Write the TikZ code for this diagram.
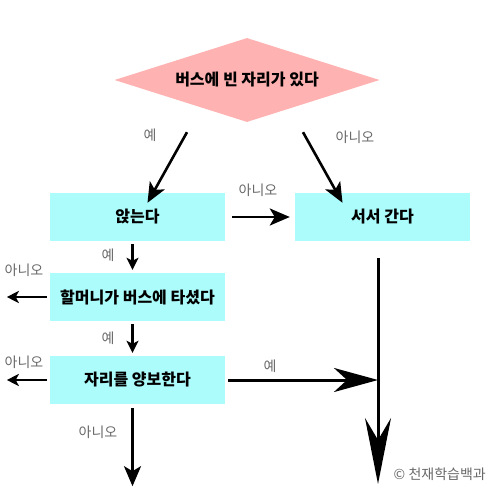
\documentclass[tikz,border=0pt]{standalone}
\usepackage{fontspec}
\setmainfont{Noto Sans CJK KR}
\usetikzlibrary{arrows.meta,positioning,shapes.geometric}
\definecolor{DiaPink}{RGB}{255,178,178}
\definecolor{BoxCyan}{RGB}{172,252,252}
\definecolor{LabelGray}{RGB}{105,105,105}

\begin{document}
\begin{tikzpicture}[x=1pt, y=-1pt,
    cond/.style={diamond, fill=DiaPink, aspect=3.15, inner sep=0pt, minimum width=265pt, minimum height=84pt, font=\fontsize{16}{18}\selectfont\bfseries},
    act/.style={fill=BoxCyan, minimum width=175pt, minimum height=48pt, inner sep=0pt, font=\fontsize{16}{18}\selectfont\bfseries},
    lab/.style={text=LabelGray, font=\fontsize{14}{16}\selectfont, inner sep=0pt},
    arrow/.style={-{Stealth[length=12pt, width=12pt, inset=3pt]}, line width=2.4pt},
    longarrow/.style={-{Stealth[length=20pt, width=17pt, inset=5pt]}, line width=2.6pt},
    bigarrow/.style={-{Stealth[length=44pt, width=24pt, inset=13pt]}, line width=3pt},
    tallarrow/.style={-{Stealth[length=66pt, width=26pt, inset=22pt]}, line width=3pt}
  ]
    \useasboundingbox (0,0) rectangle (492,492);
    \node[cond] (bus) at (247,80) {버스에 빈 자리가 있다};
    \node[act] (sit) at (137.5,217) {앉는다};
    \node[act] (stand) at (382.5,217) {서서 간다};
    \node[act] (granny) at (137.5,297) {할머니가 버스에 타셨다};
    \node[act] (yield) at (137.5,380) {자리를 양보한다};
    \coordinate (fin) at (378,484);

    \node[lab] (l1) at (150,135) {예};
    \node[lab] (l2) at (355,137) {아니오};
    \node[lab] (l3) at (258,190) {아니오};
    \node[lab] (l4) at (108,255) {예};
    \node[lab] (l5) at (24,270) {아니오};
    \node[lab] (l6) at (108,338) {예};
    \node[lab] (l7) at (24,362) {아니오};
    \node[lab] (l8) at (270,366) {예};
    \node[lab] (l9) at (98,432) {아니오};
    \node[lab, anchor=east] (copy) at (486,474) {© 천재학습백과};

    \draw[longarrow] ([xshift=-60pt,yshift=-10pt]bus.south) -- ([xshift=10pt,yshift=-10pt]sit.north);
    \draw[longarrow] ([xshift=56pt,yshift=-10pt]bus.south) -- ([xshift=-40pt,yshift=-10pt]stand.north);
    \draw[longarrow] ([xshift=7pt]sit.east) -- ([xshift=-5pt]stand.west);
    \draw[arrow] ([xshift=-5pt,yshift=-3pt]sit.south) -- ([xshift=-5pt,yshift=3pt]granny.north);
    \draw[arrow] ([xshift=-3pt]granny.west) -- ++(-40,0);
    \draw[arrow] ([xshift=-5pt,yshift=-3pt]granny.south) -- ([xshift=-5pt,yshift=3pt]yield.north);
    \draw[arrow] ([xshift=-3pt]yield.west) -- ++(-40,0);
    \draw[longarrow] ([xshift=-5pt,yshift=-4pt]yield.south) -- ++(0,78);
    \draw[bigarrow] ([xshift=3pt]yield.east) -- (yield.east -| fin);
    \draw[tallarrow] ([xshift=-4.5pt,yshift=-17pt]stand.south) -- (fin);
  \end{tikzpicture}
\end{document}
